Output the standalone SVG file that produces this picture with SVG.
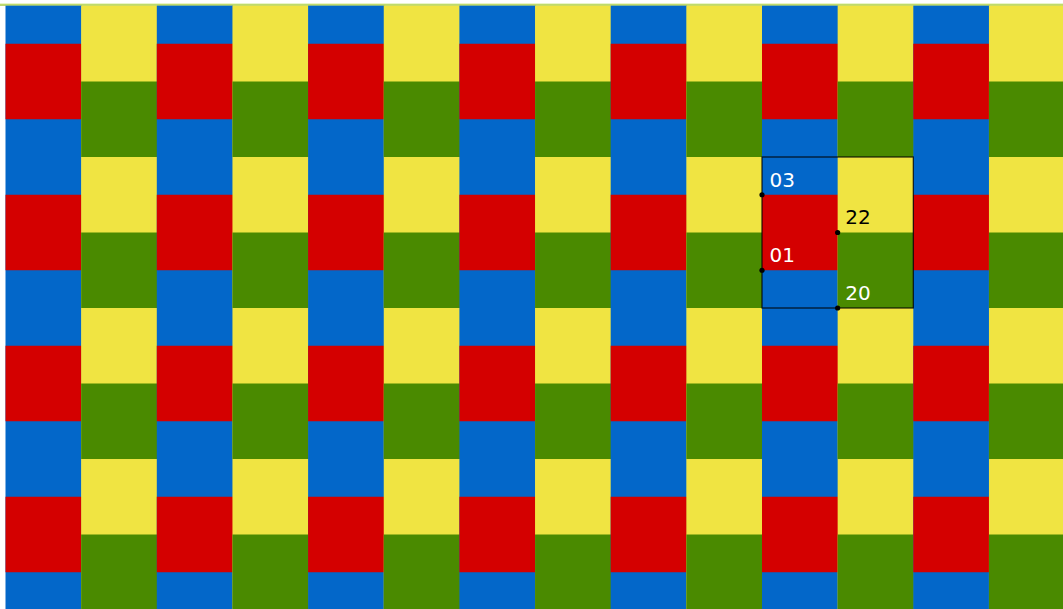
<svg xmlns="http://www.w3.org/2000/svg" xmlns:xlink="http://www.w3.org/1999/xlink" width="1063" height="609" viewBox="0 0 1063 609">
<style>
.b{fill:#0367C9}
.r{fill:#D40000}
.y{fill:#F0E442}
.g{fill:#4A8A00}
.lbl{font-family:"DejaVu Sans","Liberation Sans",sans-serif;font-size:20px}
.w{fill:#ffffff}
.k{fill:#000000}
.dot{fill:#000000}
</style>
<defs>
<g id="colE">
<rect class="b" x="0" y="5.7" width="76.2" height="604"/>
<rect class="r" x="0" y="43.75" width="76.2" height="75.5"/>
<rect class="r" x="0" y="194.75" width="76.2" height="75.5"/>
<rect class="r" x="0" y="345.75" width="76.2" height="75.5"/>
<rect class="r" x="0" y="496.75" width="76.2" height="75.5"/>
</g>
<g id="colO">
<rect class="y" x="0" y="5.7" width="76.2" height="604"/>
<rect class="g" x="0" y="81.5" width="76.2" height="75.5"/>
<rect class="g" x="0" y="232.5" width="76.2" height="75.5"/>
<rect class="g" x="0" y="383.5" width="76.2" height="75.5"/>
<rect class="g" x="0" y="534.5" width="76.2" height="75.5"/>
</g>
</defs>
<rect x="0" y="0" width="1063" height="609" fill="#ffffff"/>
<rect x="0" y="3.7" width="1063" height="1" fill="#B8D94C"/>
<rect x="0" y="4.7" width="1063" height="1" fill="#9EC63A"/>
<g id="tiling">
<use xlink:href="#colE" x="5.5"/>
<use xlink:href="#colO" x="81.15"/>
<use xlink:href="#colE" x="156.8"/>
<use xlink:href="#colO" x="232.45"/>
<use xlink:href="#colE" x="308.1"/>
<use xlink:href="#colO" x="383.75"/>
<use xlink:href="#colE" x="459.4"/>
<use xlink:href="#colO" x="535.05"/>
<use xlink:href="#colE" x="610.7"/>
<use xlink:href="#colO" x="686.35"/>
<use xlink:href="#colE" x="762"/>
<use xlink:href="#colO" x="837.65"/>
<use xlink:href="#colE" x="913.3"/>
<use xlink:href="#colO" x="988.95"/>
</g>
<g id="cell">
<rect x="762" y="157" width="151.3" height="151" fill="none" stroke="#000000" stroke-width="1.2" stroke-opacity="0.85"/>
</g>
<g id="markers">
<circle class="dot" cx="762" cy="194.75" r="2.6"/>
<circle class="dot" cx="762" cy="270.25" r="2.6"/>
<circle class="dot" cx="837.65" cy="232.5" r="2.6"/>
<circle class="dot" cx="837.65" cy="308" r="2.6"/>
</g>
<g id="labels">
<text class="lbl w" x="769.6" y="186.6">03</text>
<text class="lbl k" x="845.2" y="224.2">22</text>
<text class="lbl w" x="769.6" y="262">01</text>
<text class="lbl w" x="845.2" y="299.8">20</text>
</g>
</svg>
